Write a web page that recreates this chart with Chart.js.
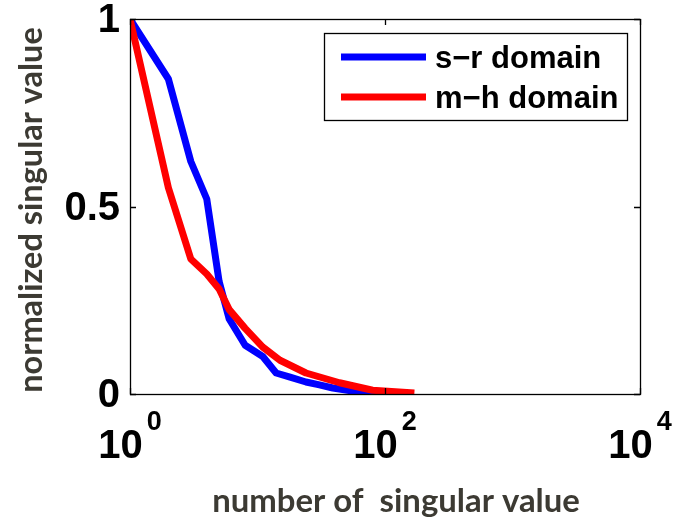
<!DOCTYPE html>
<html>
<head>
<meta charset="utf-8">
<script src="https://cdn.jsdelivr.net/npm/chart.js@4.4.1/dist/chart.umd.min.js"></script>
<style>
  html, body { margin: 0; padding: 0; background: #fff; }
  #wrap { width: 673px; height: 519px; }
</style>
</head>
<body>
<div id="wrap"><canvas id="chart" width="673" height="519"></canvas></div>
<script>
// singular value spectra, normalised to the first value
const seriesNames = ['s\u2212r domain', 'm\u2212h domain'];
const seriesColors = ['#0000ff', '#ff0000'];

const srIndex = [1, 2, 3, 4, 5, 6, 8, 11, 14, 18, 24, 30, 39, 55, 72, 100];
const srValue = [1, 0.84, 0.62, 0.52, 0.30, 0.20, 0.13, 0.10, 0.056, 0.045, 0.032, 0.025, 0.016, 0.008, 0.003, 0];

const mhIndex = [1, 2, 3, 4, 5, 6, 8, 11, 15, 24, 44, 80, 170];
const mhValue = [1, 0.55, 0.36, 0.32, 0.28, 0.225, 0.175, 0.125, 0.09, 0.056, 0.03, 0.01, 0.003];

const xTickExps = [0, 2, 4];
const yTicks = [0, 0.5, 1];
const xTitle = 'number of  singular value';
const yTitle = 'normalized singular value';

const toPoints = (xs, ys) => xs.map((x, i) => ({ x: x, y: ys[i] }));

const TICK_FONT = 'Liberation Sans, Arial, sans-serif';
const TITLE_FONT = 'Lato, "Open Sans", sans-serif';
const TITLE_COLOR = '#3c3a33';

// shrink/grow a font so the text spans the given width
function fitFont(ctx, text, width, family) {
  ctx.font = 'bold 28px ' + family;
  const size = 28 * width / ctx.measureText(text).width;
  return 'bold ' + size.toFixed(1) + 'px ' + family;
}

const axesPlugin = {
  id: 'axesDecor',
  afterDatasetsDraw(chart) {
    const { ctx, chartArea: a, scales: { x, y } } = chart;
    ctx.save();
    ctx.strokeStyle = '#000';
    ctx.lineWidth = 1.3;
    ctx.strokeRect(a.left + 0.5, a.top + 0.5, a.right - a.left, a.bottom - a.top);

    // inward tick marks on all four sides
    ctx.beginPath();
    yTicks.forEach(v => {
      const py = Math.round(y.getPixelForValue(v)) + 0.5;
      ctx.moveTo(a.left, py); ctx.lineTo(a.left + 6, py);
      ctx.moveTo(a.right, py); ctx.lineTo(a.right - 6, py);
    });
    xTickExps.forEach(e => {
      const px = Math.round(x.getPixelForValue(Math.pow(10, e))) + 0.5;
      ctx.moveTo(px, a.bottom); ctx.lineTo(px, a.bottom - 6);
      ctx.moveTo(px, a.top); ctx.lineTo(px, a.top + 6);
    });
    ctx.stroke();
    ctx.restore();
  },
  afterDraw(chart) {
    const { ctx, chartArea: a, scales: { x, y } } = chart;
    ctx.save();
    ctx.fillStyle = '#000';

    // y tick labels
    ctx.font = 'bold 40px ' + TICK_FONT;
    ctx.textAlign = 'right';
    ctx.textBaseline = 'middle';
    yTicks.forEach(v => {
      ctx.fillText(String(v), a.left - 10, y.getPixelForValue(v) + 2);
    });

    // x tick labels as powers of ten
    ctx.textAlign = 'left';
    ctx.textBaseline = 'alphabetic';
    xTickExps.forEach(e => {
      const px = x.getPixelForValue(Math.pow(10, e));
      ctx.font = 'bold 40px ' + TICK_FONT;
      const wb = ctx.measureText('10').width;
      ctx.font = 'bold 27px ' + TICK_FONT;
      const ws = ctx.measureText(String(e)).width;
      const x0 = px - (wb + 4 + ws) / 2;
      ctx.font = 'bold 40px ' + TICK_FONT;
      ctx.fillText('10', x0, a.bottom + 64);
      ctx.font = 'bold 27px ' + TICK_FONT;
      ctx.fillText(String(e), x0 + wb + 4, a.bottom + 36);
    });

    // axis titles
    ctx.fillStyle = TITLE_COLOR;
    ctx.textAlign = 'center';
    ctx.font = fitFont(ctx, xTitle, 368, TITLE_FONT);
    ctx.fillText(xTitle, 396, 512);

    ctx.font = fitFont(ctx, yTitle, 366, TITLE_FONT);
    ctx.translate(42, 210);
    ctx.rotate(-Math.PI / 2);
    ctx.fillText(yTitle, 0, 0);
    ctx.restore();

    // boxed legend in the upper right
    ctx.save();
    const box = { l: 324, t: 33, r: 627, b: 120 };
    ctx.fillStyle = '#fff';
    ctx.fillRect(box.l, box.t, box.r - box.l, box.b - box.t);
    ctx.strokeStyle = '#000';
    ctx.lineWidth = 1.3;
    ctx.strokeRect(box.l + 0.5, box.t + 0.5, box.r - box.l, box.b - box.t);
    ctx.font = 'bold 31px ' + TICK_FONT;
    ctx.textAlign = 'left';
    ctx.textBaseline = 'alphabetic';
    chart.data.datasets.forEach((ds, i) => {
      const ly = 57 + i * 40;
      ctx.strokeStyle = ds.borderColor;
      ctx.lineWidth = 7;
      ctx.beginPath();
      ctx.moveTo(341, ly); ctx.lineTo(426, ly);
      ctx.stroke();
      ctx.fillStyle = '#000';
      ctx.fillText(ds.label, 435, ly + 11);
    });
    ctx.restore();
  }
};

new Chart(document.getElementById('chart'), {
  type: 'line',
  data: {
    datasets: [
      { label: seriesNames[0], data: toPoints(srIndex, srValue), borderColor: seriesColors[0], order: 1 },
      { label: seriesNames[1], data: toPoints(mhIndex, mhValue), borderColor: seriesColors[1], order: 0 }
    ]
  },
  options: {
    responsive: false,
    animation: false,
    events: [],
    layout: { padding: { top: 19, right: 33, left: 0, bottom: 0 } },
    elements: {
      line: { borderWidth: 7, tension: 0, borderJoinStyle: 'round', borderCapStyle: 'butt' },
      point: { radius: 0 }
    },
    plugins: { legend: { display: false }, tooltip: { enabled: false } },
    scales: {
      x: {
        type: 'logarithmic',
        min: 1,
        max: 10000,
        grid: { display: false, drawTicks: false },
        border: { display: false },
        ticks: { display: false },
        afterFit: s => { s.height = 125; }
      },
      y: {
        min: 0,
        max: 1,
        grid: { display: false, drawTicks: false },
        border: { display: false },
        ticks: { display: false, stepSize: 0.5 },
        afterFit: s => { s.width = 130; }
      }
    }
  },
  plugins: [axesPlugin]
});
</script>
</body>
</html>
